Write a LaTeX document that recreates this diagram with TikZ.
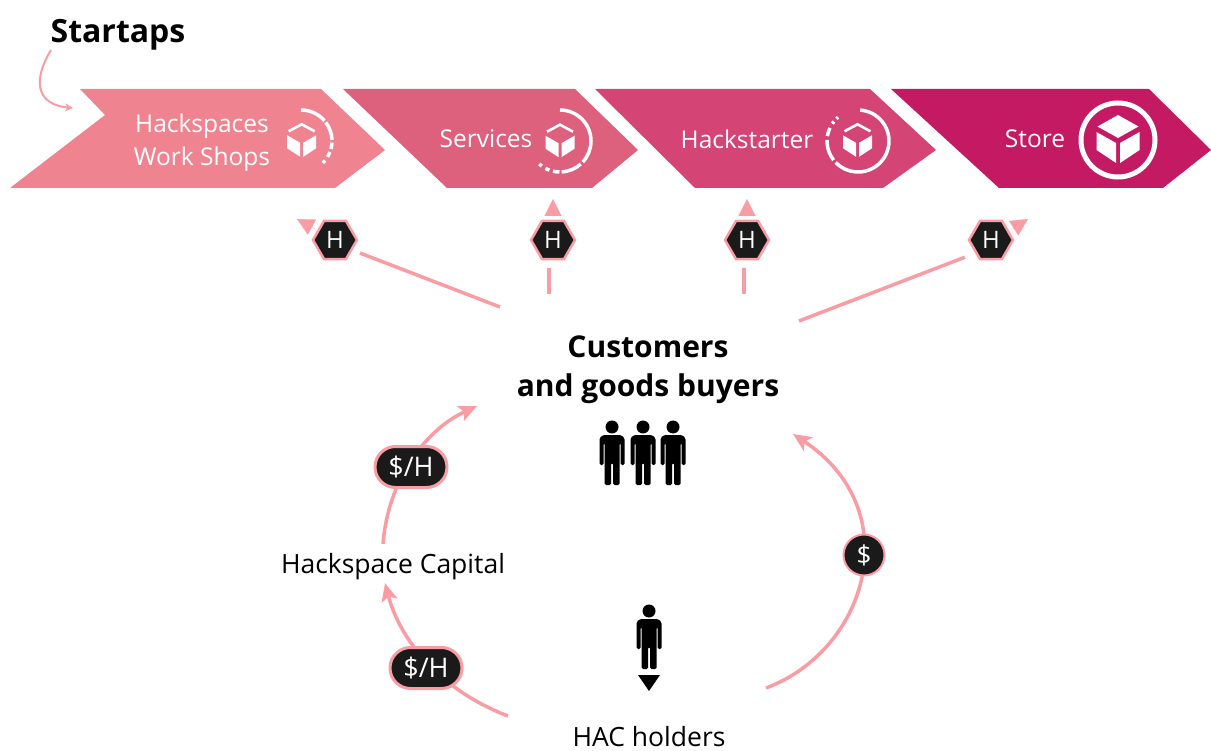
\documentclass[tikz,border=0pt]{standalone}
\usepackage{fontspec}
\setmainfont{Open Sans}
\usepackage{xcolor}
\usetikzlibrary{calc}
\usetikzlibrary{arrows.meta}
\usetikzlibrary{shapes.geometric, shapes.misc}
\definecolor{stepa}{HTML}{EF8490}
\definecolor{stepb}{HTML}{DD607D}
\definecolor{stepc}{HTML}{D44474}
\definecolor{stepd}{HTML}{C41A63}
\definecolor{linkpink}{HTML}{FA9CA3}
\definecolor{badge}{HTML}{1A1A1A}
\tikzset{
    link/.style={draw=linkpink, line width=3.5pt},
    linkhead/.style={draw=linkpink, line width=0.3pt, -{Triangle[length=17pt,width=17pt]}},
    curvehead/.style={link, -{Stealth[length=18pt,width=16pt,inset=4pt]}},
    hexbadge/.style={regular polygon, regular polygon sides=6, minimum size=44pt, inner sep=0pt, fill=badge, draw=linkpink, line width=2.5pt, text=white, font=\fontsize{24}{24}\selectfont},
    pillbadge/.style={rounded rectangle, minimum width=72pt, minimum height=41pt, inner sep=0pt, fill=badge, draw=linkpink, line width=3pt, text=white, font=\fontsize{27}{27}\selectfont},
    coinbadge/.style={circle, minimum size=41pt, inner sep=0pt, fill=badge, draw=linkpink, line width=2pt, text=white, font=\fontsize{26}{26}\selectfont},
    steplabel/.style={text=white, align=center, font=\fontsize{24.5}{33}\selectfont},
    plainlabel/.style={font=\fontsize{26.5}{26.5}\selectfont},
    ring/.style={draw=white, line width=3.5pt},
    person/.pic={
        \fill[black] (0,8) circle (6.5);
        \fill[black, rounded corners=1.5pt] (-12.5,46) -- (-12.5,19) -- (-9,16) -- (9,16) -- (12.5,19) -- (12.5,46) -- (8.5,46) -- (8.5,24) -- (7.5,24) -- (7.5,66) -- (1,66) -- (1,44) -- (-1,44) -- (-1,66) -- (-7.5,66) -- (-7.5,24) -- (-8.5,24) -- (-8.5,46) -- cycle;
    },
    boxicon/.pic={
        \fill[white] (-21.5,-7) -- (-2,4) -- (-2,24) -- (-21.5,11) -- cycle;
        \fill[white] (21.5,-7) -- (2,4) -- (2,24) -- (21.5,11) -- cycle;
        \fill[white] (0,-24) -- (20.5,-12.5) -- (0,-1) -- (-20.5,-12.5) -- cycle;
    },
    smallbox/.pic={
        \draw[white, line width=2.6pt] (-13,-9) -- (0,-16) -- (13,-9);
        \fill[white] (-14.5,-5) -- (-1.5,2.5) -- (-1.5,16.5) -- (-14.5,8) -- cycle;
        \fill[white] (14.5,-5) -- (1.5,2.5) -- (1.5,16.5) -- (14.5,8) -- cycle;
    },
}
\begin{document}
\begin{tikzpicture}[x=1pt, y=-1pt]
    \useasboundingbox (0,0) rectangle (1211,751);
    % chevrons
    \fill[stepa] (80,89) -- (321,89) -- (385,150) -- (335,188) -- (10,188) -- (105,115) -- cycle;
    \fill[stepb] (343,89) -- (575,89) -- (638,150) -- (592,188) -- (447,188) -- cycle;
    \fill[stepc] (595,89) -- (870,89) -- (936,150) -- (883,188) -- (695,188) -- cycle;
    \fill[stepd] (891,89) -- (1149,89) -- (1211,150) -- (1163,188) -- (999,188) -- cycle;
    \node[steplabel] (hackspaces) at (202,143) {Hackspaces\\Work Shops};
    \node[steplabel] (services) at (486,139) {Services};
    \node[steplabel] (hackstarter) at (747,139) {Hackstarter};
    \node[steplabel] (store) at (1035,139) {Store};
    % box icons with progress rings
    \pic at (301.7,140.3) {smallbox};
    \pic at (560,140.7) {smallbox};
    \pic at (857.5,140.3) {smallbox};
    \pic at (1118,139) {boxicon};
    \draw[ring] ([shift={(-90:31)}]301,141) arc (-90:-41:31);
    \draw[ring] ([shift={(-37:31)}]301,141) arc (-37:-2:31);
    \draw[ring] ([shift={(3:31)}]301,141) arc (3:15:31);
    \draw[ring] ([shift={(21:31)}]301,141) arc (21:31:31);
    \draw[ring] ([shift={(39:31)}]301,141) arc (39:45:31);
    \draw[ring] ([shift={(-90:31)}]560,141) arc (-90:43:31);
    \draw[ring] ([shift={(48:31)}]560,141) arc (48:87:31);
    \draw[ring] ([shift={(91:31)}]560,141) arc (91:103:31);
    \draw[ring] ([shift={(110:31)}]560,141) arc (110:118:31);
    \draw[ring] ([shift={(126:31)}]560,141) arc (126:132:31);
    \draw[ring] ([shift={(-86:31)}]858,141) arc (-86:136:31);
    \draw[ring] ([shift={(142:31)}]858,141) arc (142:182:31);
    \draw[ring] ([shift={(189:31)}]858,141) arc (189:205:31);
    \draw[ring] ([shift={(214:31)}]858,141) arc (214:219:31);
    \draw[ring] ([shift={(226:31)}]858,141) arc (226:230:31);
    \draw[white, line width=5pt] (1118,140) circle (37);
    % startaps label
    \node[font=\bfseries\fontsize{32}{32}\selectfont] (startaps) at (118,35) {Startaps};
    \coordinate (startapstail) at (51,50);
    \coordinate (startapstip) at (73,108);
    \draw[draw=linkpink, line width=2pt, -{Stealth[length=8pt,width=8pt]}] (startapstail) .. controls (30,85) and (40,105) .. (startapstip);
    % H badges and their links
    \node[hexbadge] (hexa) at (335,240) {H};
    \node[hexbadge] (hexb) at (553,240) {H};
    \node[hexbadge] (hexc) at (747,240) {H};
    \node[hexbadge] (hexd) at (991,240) {H};
    \coordinate (tipa) at (297,219);
    \coordinate (tipb) at (553,199);
    \coordinate (tipc) at (747,199);
    \coordinate (tipd) at (1028,219);
    \draw[linkhead] (hexa) ++(-20.5,-11.5) -- (tipa);
    \draw[linkhead, shorten <=3pt] (hexb.north) -- (tipb);
    \draw[linkhead, shorten <=3pt] (hexc.north) -- (tipc);
    \draw[linkhead] (hexd) ++(20.5,-10.5) -- (tipd);
    \coordinate (taila) at (500,307);
    \coordinate (tailb) at (549,294);
    \coordinate (tailc) at (744,294);
    \coordinate (taild) at (799,321);
    \draw[link, shorten >=8pt] (taila) -- (hexa.-30);
    \draw[link, shorten >=8pt] (tailb) -- (tailb |- hexb.south);
    \draw[link, shorten >=8pt] (tailc) -- (tailc |- hexc.south);
    \draw[link, shorten >=11pt] (taild) -- (hexd.-140);
    % customers
    \node[align=center, font=\bfseries\fontsize{30}{39}\selectfont] (customers) at (648,369.5) {Customers\\and goods buyers};
    \pic at (612,419) {person};
    \pic at (643,419) {person};
    \pic at (673,419) {person};
    % capital and holders
    \node[plainlabel] (capital) at (393,567) {Hackspace Capital};
    \node[plainlabel] (holders) at (649,737) {HAC holders};
    \pic at (649,603) {person};
    \fill[black] (638,675) -- (660,675) -- (649,691) -- cycle;
    % money flows
    \coordinate (flowa) at (383,544);
    \coordinate (flowatip) at (477,406);
    \coordinate (flowb) at (508,716);
    \coordinate (flowbtip) at (385,583);
    \coordinate (flowc) at (766,688);
    \coordinate (flowctip) at (793,434);
    \draw[curvehead] (flowa) .. controls (388,480) and (425,430) .. (flowatip);
    \draw[curvehead] (flowb) .. controls (440,690) and (400,640) .. (flowbtip);
    \draw[curvehead] (flowc) .. controls (868,650) and (908,510) .. (flowctip);
    \node[pillbadge] (pillup) at (411,467) {\$/H};
    \node[pillbadge] (pilldown) at (426,668) {\$/H};
    \node[coinbadge] (coin) at (864,555) {\$};
\end{tikzpicture}
\end{document}
